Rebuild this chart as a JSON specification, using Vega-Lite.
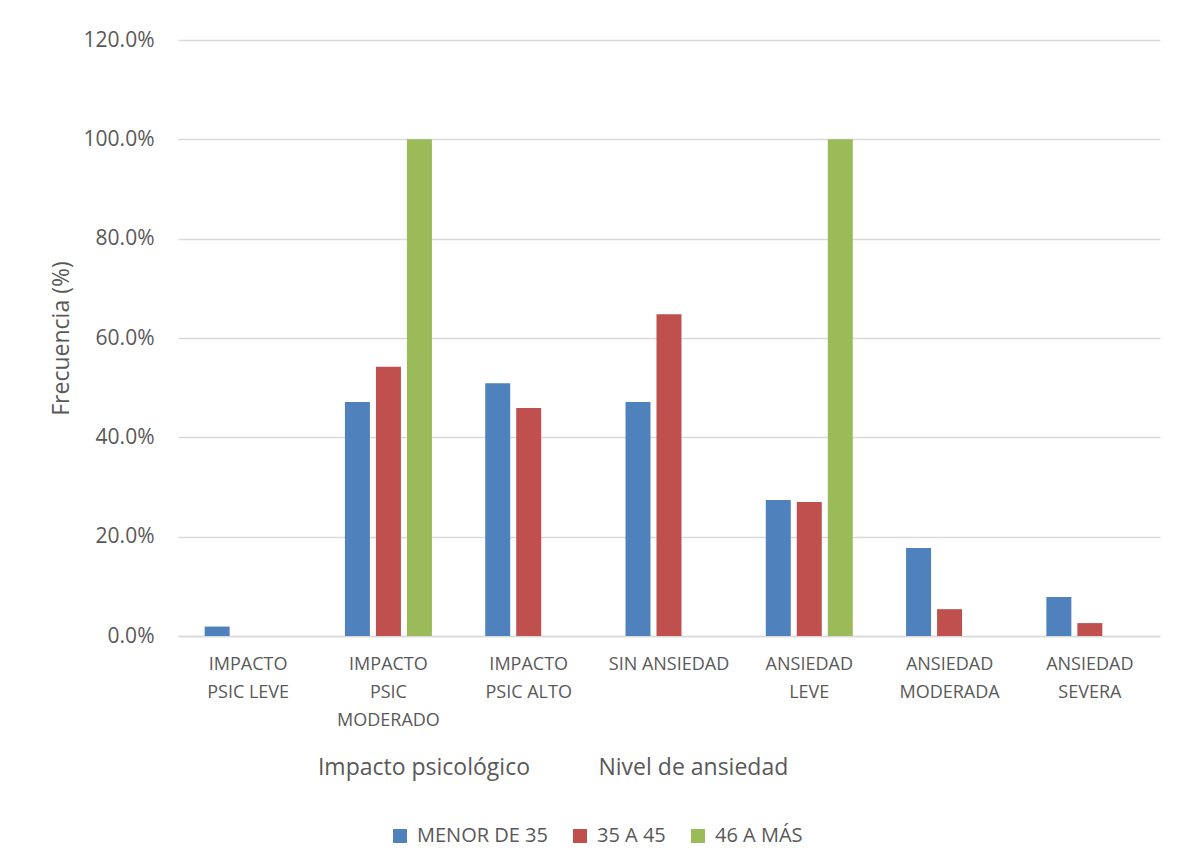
{
  "$schema": "https://vega.github.io/schema/vega-lite/v6.json",
  "width": 982,
  "height": 596,
  "autosize": {"type": "none"},
  "padding": {"left": 178, "top": 40, "right": 19, "bottom": 230},
  "background": "white",
  "config": {
    "view": {"stroke": null},
    "font": "Open Sans",
    "text": {"font": "Open Sans"}
  },
  "datasets": {
    "bars": [
      {"cat": "IMPACTO|PSIC LEVE", "grupo": "MENOR DE 35", "valor": 0.019},
      {"cat": "IMPACTO|PSIC|MODERADO", "grupo": "MENOR DE 35", "valor": 0.471},
      {"cat": "IMPACTO|PSIC|MODERADO", "grupo": "35 A 45", "valor": 0.542},
      {"cat": "IMPACTO|PSIC|MODERADO", "grupo": "46 A MÁS", "valor": 1.0},
      {"cat": "IMPACTO|PSIC ALTO", "grupo": "MENOR DE 35", "valor": 0.509},
      {"cat": "IMPACTO|PSIC ALTO", "grupo": "35 A 45", "valor": 0.459},
      {"cat": "SIN ANSIEDAD", "grupo": "MENOR DE 35", "valor": 0.471},
      {"cat": "SIN ANSIEDAD", "grupo": "35 A 45", "valor": 0.648},
      {"cat": "ANSIEDAD|LEVE", "grupo": "MENOR DE 35", "valor": 0.274},
      {"cat": "ANSIEDAD|LEVE", "grupo": "35 A 45", "valor": 0.270},
      {"cat": "ANSIEDAD|LEVE", "grupo": "46 A MÁS", "valor": 1.0},
      {"cat": "ANSIEDAD|MODERADA", "grupo": "MENOR DE 35", "valor": 0.177},
      {"cat": "ANSIEDAD|MODERADA", "grupo": "35 A 45", "valor": 0.054},
      {"cat": "ANSIEDAD|SEVERA", "grupo": "MENOR DE 35", "valor": 0.0785},
      {"cat": "ANSIEDAD|SEVERA", "grupo": "35 A 45", "valor": 0.026}
    ],
    "groups": [
      {"cat": "IMPACTO|PSIC|MODERADO", "label": "Impacto psicológico"},
      {"cat": "SIN ANSIEDAD", "label": "Nivel de ansiedad"}
    ]
  },
  "layer": [
    {
      "data": {"name": "bars"},
      "mark": {"type": "bar"},
      "encoding": {
        "x": {
          "field": "cat",
          "type": "nominal",
          "sort": null,
          "scale": {
            "domain": ["IMPACTO|PSIC LEVE", "IMPACTO|PSIC|MODERADO", "IMPACTO|PSIC ALTO", "SIN ANSIEDAD", "ANSIEDAD|LEVE", "ANSIEDAD|MODERADA", "ANSIEDAD|SEVERA"],
            "paddingInner": 0.337,
            "paddingOuter": 0.1685
          },
          "axis": {
            "title": null,
            "labelAngle": 0,
            "labelExpr": "split(datum.value, '|')",
            "labelFontSize": 18,
            "labelColor": "#595959",
            "labelLineHeight": 28,
            "labelPadding": 19,
            "labelBaseline": "top",
            "labelAlign": "center",
            "ticks": false,
            "domainColor": "#d9d9d9",
            "domainWidth": 1.5,
            "grid": false
          }
        },
        "xOffset": {
          "field": "grupo",
          "type": "nominal",
          "scale": {"domain": ["MENOR DE 35", "35 A 45", "46 A MÁS"], "paddingInner": 0.194, "paddingOuter": 0.097}
        },
        "y": {
          "field": "valor",
          "type": "quantitative",
          "scale": {"domain": [0, 1.2], "nice": false},
          "axis": {
            "title": "Frecuencia (%)",
            "titleFontSize": 23,
            "titleFontWeight": "normal",
            "titleColor": "#595959",
            "titlePadding": 10,
            "format": ".1%",
            "values": [0, 0.2, 0.4, 0.6, 0.8, 1.0, 1.2],
            "labelFontSize": 21,
            "labelColor": "#595959",
            "labelPadding": 24,
            "ticks": false,
            "domain": false,
            "gridColor": "#d9d9d9",
            "gridWidth": 1.3
          }
        },
        "color": {
          "field": "grupo",
          "type": "nominal",
          "scale": {"domain": ["MENOR DE 35", "35 A 45", "46 A MÁS"], "range": ["#4f81bd", "#c0504d", "#9bbb59"]},
          "legend": {
            "title": null,
            "orient": "none",
            "legendX": 212,
            "legendY": 786,
            "direction": "horizontal",
            "symbolType": "square",
            "symbolSize": 196,
            "symbolStrokeWidth": 0,
            "labelFontSize": 20,
            "labelColor": "#595959",
            "labelOffset": 7,
            "columnPadding": 22
          }
        }
      }
    },
    {
      "data": {"name": "groups"},
      "mark": {"type": "text", "align": "left", "baseline": "middle", "dx": -24, "dy": 132, "fontSize": 23, "color": "#595959"},
      "encoding": {
        "x": {"field": "cat", "type": "nominal", "bandPosition": 0},
        "y": {"datum": 0},
        "text": {"field": "label"}
      }
    }
  ]
}
